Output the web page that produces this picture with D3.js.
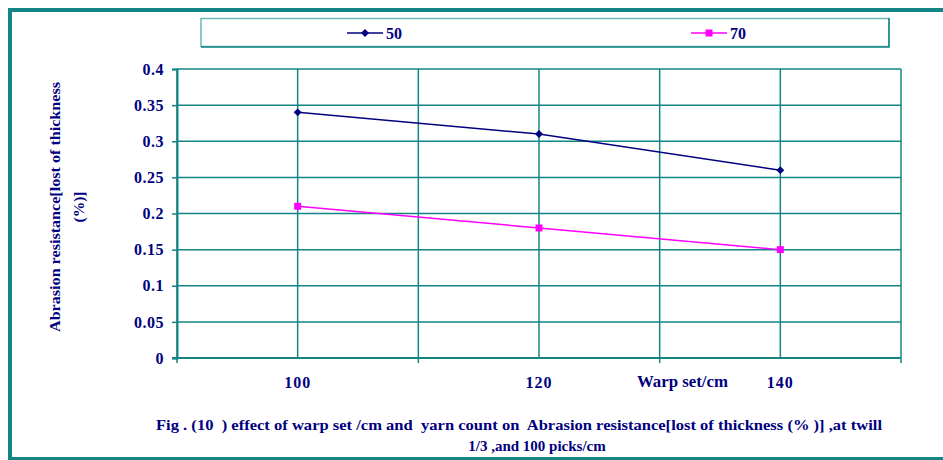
<!DOCTYPE html>
<html>
<head>
<meta charset="utf-8">
<script src="https://d3js.org/d3.v7.min.js"></script>
<style>
  body { margin: 0; background: #fff; }
  svg text { font-family: 'Liberation Serif', 'Times New Roman', serif; font-weight: bold; fill: #000080; }
</style>
</head>
<body>
<div id="chart"></div>
<script>
// data
var categories = ['100', '120', '140'];
var series50 = [0.34, 0.31, 0.26];
var series70 = [0.21, 0.18, 0.15];
var seriesNames = ['50', '70'];
var yTicks = [0, 0.05, 0.1, 0.15, 0.2, 0.25, 0.3, 0.35, 0.4];

var width = 943, height = 460;
var teal = '#138585';

var svg = d3.select('#chart').append('svg')
  .attr('width', width).attr('height', height);

// outer frame
svg.append('line').attr('x1', 8).attr('x2', 943).attr('y1', 10).attr('y2', 10)
  .style('stroke', teal).style('stroke-width', 4);
svg.append('line').attr('x1', 10).attr('x2', 10).attr('y1', 8).attr('y2', 460)
  .style('stroke', teal).style('stroke-width', 4);
svg.append('line').attr('x1', 8).attr('x2', 943).attr('y1', 458.5).attr('y2', 458.5)
  .style('stroke', teal).style('stroke-width', 3);

var plot = { left: 177, right: 901, top: 69, bottom: 358 };

var x = d3.scaleBand().domain(categories).range([plot.left, plot.right]).padding(0);
var y = d3.scaleLinear().domain([0, 0.4]).range([plot.bottom, plot.top]);

var g = svg.append('g');

// horizontal gridlines
g.selectAll('.hgrid').data(yTicks).enter().append('line')
  .attr('x1', plot.left).attr('x2', plot.right)
  .attr('y1', function(d){ return y(d); }).attr('y2', function(d){ return y(d); })
  .style('stroke', teal).style('stroke-width', 1.5);

// vertical gridlines: band edges and centers
var edges = categories.map(function(c){ return x(c); }).concat([plot.right]);
var centers = categories.map(function(c){ return x(c) + x.bandwidth() / 2; });
g.selectAll('.vgrid').data(edges.concat(centers)).enter().append('line')
  .attr('x1', function(d){ return d; }).attr('x2', function(d){ return d; })
  .attr('y1', plot.top).attr('y2', plot.bottom)
  .style('stroke', teal).style('stroke-width', 1.5);

// axes
var yAxis = svg.append('g').attr('transform', 'translate(' + plot.left + ',0)')
  .call(d3.axisLeft(y).tickValues(yTicks).tickSize(5).tickPadding(8)
    .tickFormat(function(d){ return String(d); }));
yAxis.select('.domain').style('stroke', teal).style('stroke-width', 2);
yAxis.selectAll('line').style('stroke', teal).style('stroke-width', 1.5);
yAxis.selectAll('text').style('font-size', '16px').style('letter-spacing', '0.5px')
  .style('font-family', 'Liberation Serif').style('fill', '#000080');

svg.append('line').attr('x1', plot.left - 5).attr('x2', plot.right)
  .attr('y1', plot.bottom).attr('y2', plot.bottom)
  .style('stroke', teal).style('stroke-width', 2);
svg.selectAll('.xtick').data(edges).enter().append('line')
  .attr('x1', function(d){ return d; }).attr('x2', function(d){ return d; })
  .attr('y1', plot.bottom).attr('y2', plot.bottom + 5)
  .style('stroke', teal).style('stroke-width', 1.5);
svg.selectAll('.xlab').data(categories).enter().append('text')
  .attr('x', function(d){ return x(d) + x.bandwidth() / 2; })
  .attr('y', 388)
  .attr('text-anchor', 'middle')
  .style('font-size', '16px').style('letter-spacing', '1px')
  .text(function(d){ return d; });

svg.append('text').attr('x', 637).attr('y', 387)
  .attr('textLength', 91).attr('lengthAdjust', 'spacingAndGlyphs')
  .style('font-size', '16px').text('Warp set/cm');

// y title
var yt = svg.append('text').attr('transform', 'translate(55,207) rotate(-90)')
  .attr('text-anchor', 'middle').style('font-size', '15.5px');
yt.append('tspan').attr('x', -125).attr('y', 5).attr('text-anchor', 'start')
  .attr('textLength', 250).attr('lengthAdjust', 'spacingAndGlyphs')
  .text('Abrasion resistance[lost of thickness');
yt.append('tspan').attr('x', 0).attr('y', 29).text('(%)]');

// lines
var line = d3.line()
  .x(function(d, i){ return x(categories[i]) + x.bandwidth() / 2; })
  .y(function(d){ return y(d); });

svg.append('path').datum(series50).attr('d', line)
  .style('fill', 'none').style('stroke', '#000080').style('stroke-width', 1.5);
svg.append('path').datum(series70).attr('d', line)
  .style('fill', 'none').style('stroke', '#ff00ff').style('stroke-width', 1.5);

var diamond = d3.symbol().type(d3.symbolDiamond2).size(40);
svg.selectAll('.m50').data(series50).enter().append('path')
  .attr('d', diamond)
  .attr('transform', function(d, i){ return 'translate(' + (x(categories[i]) + x.bandwidth() / 2) + ',' + y(d) + ')'; })
  .style('fill', '#000080');
svg.selectAll('.m70').data(series70).enter().append('rect')
  .attr('x', function(d, i){ return x(categories[i]) + x.bandwidth() / 2 - 3.5; })
  .attr('y', function(d){ return y(d) - 3.5; })
  .attr('width', 7).attr('height', 7)
  .style('fill', '#ff00ff');

// legend
svg.append('rect').attr('x', 201).attr('y', 18.5).attr('width', 688).attr('height', 28)
  .style('fill', '#fff').style('stroke', '#6ab8b8').style('stroke-width', 1.5);
svg.append('line').attr('x1', 201).attr('x2', 889).attr('y1', 47).attr('y2', 47)
  .style('stroke', teal).style('stroke-width', 1.5);
svg.append('line').attr('x1', 889).attr('x2', 889).attr('y1', 18).attr('y2', 47.5)
  .style('stroke', teal).style('stroke-width', 1.5);

var legendX = [347, 691];
var legendColors = ['#000080', '#ff00ff'];
seriesNames.forEach(function(name, i){
  var lx = legendX[i];
  svg.append('line').attr('x1', lx).attr('x2', lx + 36).attr('y1', 33).attr('y2', 33)
    .style('stroke', legendColors[i]).style('stroke-width', 1.5);
  if (i === 0) {
    svg.append('path').attr('d', diamond).attr('transform', 'translate(' + (lx + 18) + ',33)')
      .style('fill', legendColors[i]);
  } else {
    svg.append('rect').attr('x', lx + 14.5).attr('y', 29.5).attr('width', 7).attr('height', 7)
      .style('fill', legendColors[i]);
  }
  svg.append('text').attr('x', lx + 39).attr('y', 39).style('font-size', '16px').text(name);
});

// caption
svg.append('text').attr('x', 156).attr('y', 430)
  .attr('textLength', 726).attr('lengthAdjust', 'spacingAndGlyphs')
  .style('font-size', '15px').style('white-space', 'pre')
  .text('Fig . (10  ) effect of warp set /cm and  yarn count on  Abrasion resistance[lost of thickness (% )] ,at twill');
svg.append('text').attr('x', 537).attr('y', 451).attr('text-anchor', 'middle')
  .style('font-size', '15px').style('white-space', 'pre')
  .text('1/3 ,and 100 picks/cm');
</script>
</body>
</html>
